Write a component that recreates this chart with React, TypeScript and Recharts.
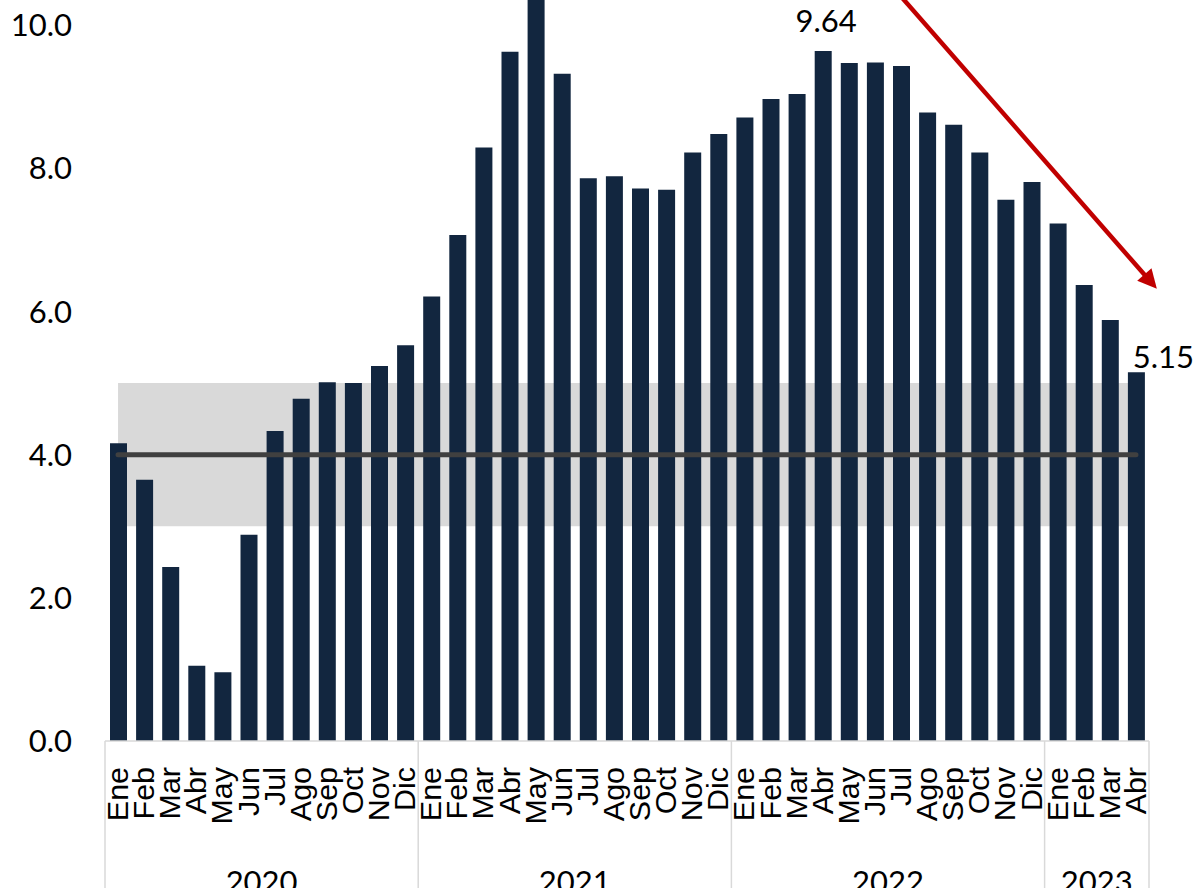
import React from "react";
import {
  Area,
  Bar,
  ComposedChart,
  LabelList,
  Line,
  ReferenceLine,
  XAxis,
  YAxis,
} from "recharts";

// Inflación interanual (%), ene-2020 a abr-2023
const MONTHS = ["Ene", "Feb", "Mar", "Abr", "May", "Jun", "Jul", "Ago", "Sep", "Oct", "Nov", "Dic"];
const YEARS = ["2020", "2021", "2022", "2023"];
const MONTHS_PER_YEAR = [12, 12, 12, 4];

const INFLATION = [
  // 2020
  4.16, 3.65, 2.43, 1.05, 0.96, 2.88, 4.33, 4.78, 5.01, 5.0, 5.24, 5.53,
  // 2021
  6.21, 7.07, 8.29, 9.63, 10.48, 9.32, 7.86, 7.89, 7.72, 7.7, 8.22, 8.48,
  // 2022
  8.71, 8.97, 9.04, 9.64, 9.47, 9.48, 9.43, 8.78, 8.61, 8.22, 7.56, 7.81,
  // 2023
  7.23, 6.37, 5.88, 5.15,
];

const TARGET = 4;
const BAND_LOW = 3;
const BAND_HIGH = 5;
const Y_TICKS = [0, 2, 4, 6, 8, 10, 12];
const CALLOUT_INDEX = [27, 39];

// flecha de tendencia (categoría, %); la punta se prolonga un poco más allá de abr-2023
const ARROW_FROM = { x: "2022-Jul", y: 10.4 };
const ARROW_TO = { x: "2023-Abr", y: 6.65 };
const ARROW_OVERSHOOT = 0.089;

const COLORS = {
  bar: "#12263f",
  band: "#d9d9d9",
  target: "#404040",
  grid: "#d9d9d9",
  arrow: "#c00000",
};

const WIDTH = 1201;
const HEIGHT = 1016;
const MARGIN = { top: 10, right: 52, left: 0, bottom: 0 };
const Y_AXIS_W = 105;
const N = INFLATION.length;
const BW = (WIDTH - MARGIN.right - MARGIN.left - Y_AXIS_W) / N;

const NUM_FONT = "Lato, 'Open Sans', sans-serif";
const MONTH_FONT = "'Liberation Sans', Arial, sans-serif";

const monthLabels: string[] = [];
const monthKeys: string[] = [];
const yearOfIndex: number[] = [];
YEARS.forEach((year, yi) => {
  for (let m = 0; m < MONTHS_PER_YEAR[yi]; m++) {
    monthLabels.push(MONTHS[m]);
    monthKeys.push(`${year}-${MONTHS[m]}`);
    yearOfIndex.push(yi);
  }
});

const rows = INFLATION.map((v, i) => ({
  key: monthKeys[i],
  value: v,
  target: TARGET,
  band: [BAND_LOW, BAND_HIGH],
}));

function MonthTick(props: any) {
  const { x, y, payload } = props;
  const i: number = payload.index ?? props.index;
  const yi = yearOfIndex[i];
  const isGroupStart = i === 0 || yearOfIndex[i - 1] !== yi;
  const isLast = i === N - 1;
  return (
    <g>
      <text
        transform={`translate(${x + 10},${y + 26}) rotate(-90) scale(1.05,1)`}
        textAnchor="end"
        fontFamily={MONTH_FONT}
        fontSize={29}
        fill="#000"
      >
        {monthLabels[i]}
      </text>
      {isGroupStart && (
        <>
          <line x1={x - BW / 2} x2={x - BW / 2} y1={y} y2={y + 160} stroke={COLORS.grid} strokeWidth={1.5} />
          <text
            x={x - BW / 2 + (MONTHS_PER_YEAR[yi] * BW) / 2}
            y={y + 152}
            textAnchor="middle"
            fontFamily={NUM_FONT}
            fontSize={31}
            fill="#000"
          >
            {YEARS[yi]}
          </text>
        </>
      )}
      {isLast && (
        <line x1={x + BW / 2} x2={x + BW / 2} y1={y} y2={y + 160} stroke={COLORS.grid} strokeWidth={1.5} />
      )}
    </g>
  );
}

function renderCallout(props: any) {
  const { x, y, width, value, index } = props;
  if (!CALLOUT_INDEX.includes(index)) return null;
  const last = index === N - 1;
  return (
    <text
      x={x + width / 2 + (last ? 27 : 3)}
      y={y - (last ? 4 : 19)}
      textAnchor="middle"
      fontFamily={NUM_FONT}
      fontSize={31}
      fill="#000"
    >
      {Number(value).toFixed(2)}
    </text>
  );
}

function Arrow(props: any) {
  const { x1, y1 } = props;
  const x2 = props.x2 + (props.x2 - x1) * ARROW_OVERSHOOT;
  const y2 = props.y2 + (props.y2 - y1) * ARROW_OVERSHOOT;
  const dx = x2 - x1;
  const dy = y2 - y1;
  const len = Math.sqrt(dx * dx + dy * dy);
  const ux = dx / len;
  const uy = dy / len;
  const L = 19;
  const W = 9.5;
  const bx = x2 - ux * L;
  const by = y2 - uy * L;
  const pts = `${x2},${y2} ${bx - uy * W},${by + ux * W} ${bx + uy * W},${by - ux * W}`;
  return (
    <g>
      <line x1={x1} y1={y1} x2={bx + ux * 2} y2={by + uy * 2} stroke={COLORS.arrow} strokeWidth={4.5} />
      <polygon points={pts} fill={COLORS.arrow} />
    </g>
  );
}

export default function App() {
  return (
    <div style={{ position: "absolute", left: 0, top: -128, width: WIDTH, height: HEIGHT }}>
      <ComposedChart width={WIDTH} height={HEIGHT} data={rows} margin={MARGIN}>
        <XAxis
          dataKey="key"
          interval={0}
          height={147}
          allowDuplicatedCategory={false}
          tickLine={false}
          tickSize={0}
          tickMargin={0}
          axisLine={{ stroke: COLORS.grid, strokeWidth: 1.5 }}
          tick={<MonthTick />}
        />
        <YAxis
          width={Y_AXIS_W}
          domain={[0, 12]}
          ticks={Y_TICKS}
          axisLine={false}
          tickLine={false}
          tickSize={0}
          tickMargin={33}
          tickFormatter={(v: number) => v.toFixed(1)}
          tick={{ fontFamily: NUM_FONT, fontSize: 31, fill: "#000" }}
        />
        <Area
          dataKey="band"
          type="linear"
          stroke="none"
          fill={COLORS.band}
          fillOpacity={1}
          dot={false}
          activeDot={false}
          isAnimationActive={false}
        />
        <Bar dataKey="value" fill={COLORS.bar} barSize={17} isAnimationActive={false}>
          <LabelList dataKey="value" content={renderCallout} />
        </Bar>
        <Line
          dataKey="target"
          type="linear"
          stroke={COLORS.target}
          strokeWidth={5}
          strokeLinecap="round"
          dot={false}
          activeDot={false}
          isAnimationActive={false}
        />
        <ReferenceLine
          segment={[ARROW_FROM, ARROW_TO]}
          ifOverflow="visible"
          shape={<Arrow />}
        />
      </ComposedChart>
    </div>
  );
}
